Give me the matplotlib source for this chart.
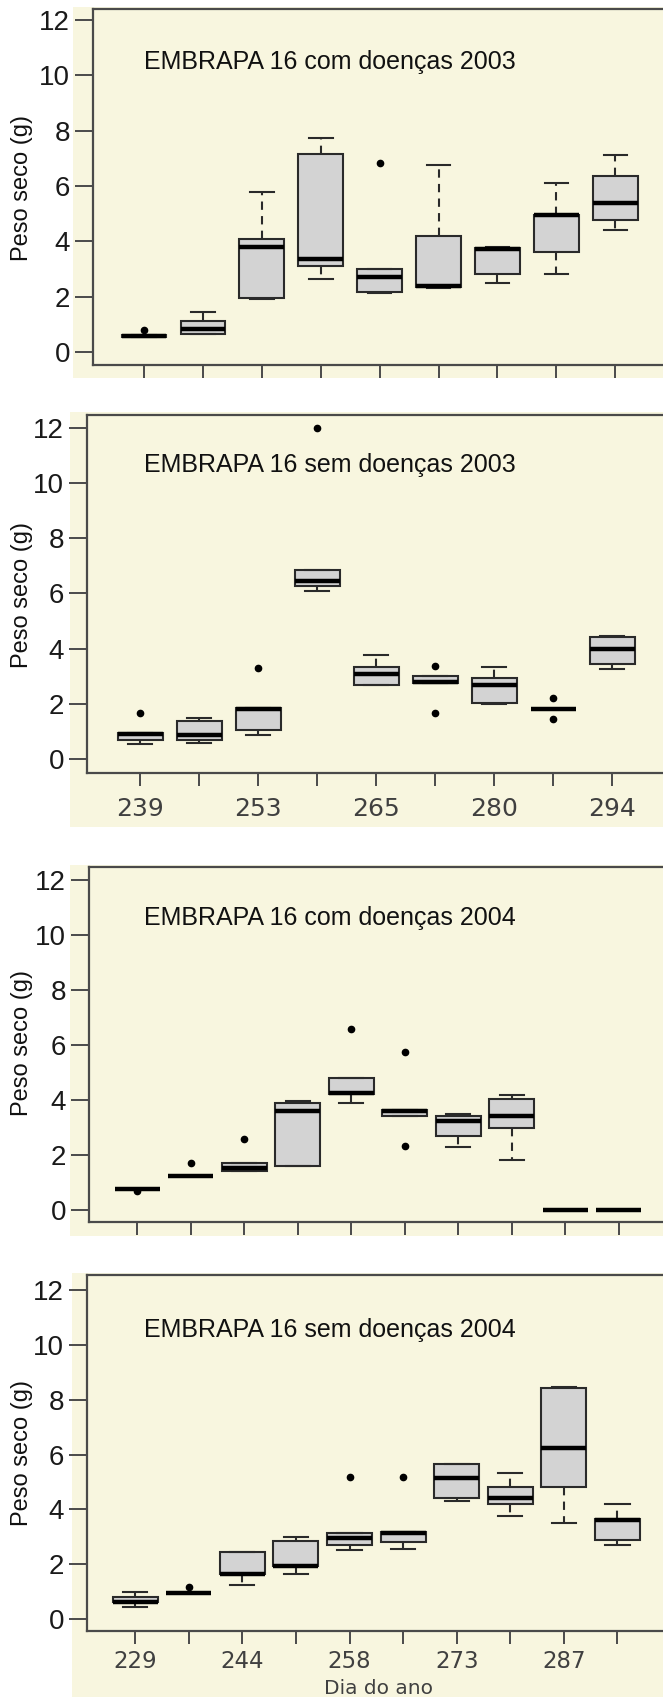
import matplotlib
matplotlib.use("Agg")
import matplotlib.pyplot as plt
from matplotlib.patches import Rectangle

# ---- data (Peso seco, g) ----
titles = ["EMBRAPA 16 com doenças 2003", "EMBRAPA 16 sem doenças 2003",
          "EMBRAPA 16 com doenças 2004", "EMBRAPA 16 sem doenças 2004"]

# painel 1: com doencas 2003
p1_q1 = [0.55, 0.64, 1.94, 3.12, 2.18, 2.36, 2.81, 3.63, 4.77]
p1_med = [0.58, 0.82, 3.81, 3.38, 2.70, 2.38, 3.72, 4.95, 5.37]
p1_q3 = [0.60, 1.13, 4.07, 7.16, 2.99, 4.19, 3.75, 4.97, 6.37]
p1_lo = [0.55, 0.64, 1.90, 2.63, 2.15, 2.30, 2.50, 2.82, 4.41]
p1_hi = [0.60, 1.43, 5.79, 7.75, 3.00, 6.76, 3.80, 6.12, 7.12]
p1_out = [[0.78], [], [], [], [6.84], [], [], [], []]

# painel 2: sem doencas 2003
p2_q1 = [0.69, 0.69, 1.05, 6.27, 2.68, 2.74, 2.04, 1.81, 3.44]
p2_med = [0.90, 0.87, 1.82, 6.46, 3.07, 2.80, 2.68, 1.81, 4.00]
p2_q3 = [0.95, 1.38, 1.85, 6.85, 3.32, 3.00, 2.92, 1.81, 4.43]
p2_lo = [0.54, 0.57, 0.85, 6.10, 2.68, 2.74, 2.00, 1.81, 3.25]
p2_hi = [0.95, 1.50, 1.85, 6.85, 3.77, 3.00, 3.32, 1.81, 4.47]
p2_out = [[1.66], [], [3.29], [12.0], [], [3.37, 1.66], [], [2.22, 1.46], []]
p2_days = ["239", "253", "265", "280", "294"]

# painel 3: com doencas 2004
p3_q1 = [0.75, 1.24, 1.43, 1.60, 4.22, 3.42, 2.67, 2.97, 0.0, 0.0]
p3_med = [0.75, 1.24, 1.54, 3.60, 4.25, 3.60, 3.24, 3.42, 0.0, 0.0]
p3_q3 = [0.75, 1.24, 1.72, 3.88, 4.79, 3.64, 3.43, 4.03, 0.0, 0.0]
p3_lo = [0.75, 1.24, 1.40, 1.60, 3.88, 3.42, 2.30, 1.82, 0.0, 0.0]
p3_hi = [0.75, 1.24, 1.72, 3.97, 4.79, 3.64, 3.48, 4.18, 0.0, 0.0]
p3_out = [[0.70], [1.70], [2.57], [], [6.57], [5.76, 2.33], [], [], [], []]

# painel 4: sem doencas 2004
p4_q1 = [0.60, 0.94, 1.63, 1.95, 2.70, 2.82, 4.43, 4.20, 4.83, 2.88]
p4_med = [0.62, 0.94, 1.63, 1.95, 2.94, 3.14, 5.13, 4.40, 6.23, 3.62]
p4_q3 = [0.81, 0.94, 2.43, 2.86, 3.13, 3.16, 5.64, 4.83, 8.42, 3.64]
p4_lo = [0.43, 0.94, 1.24, 1.63, 2.52, 2.57, 4.31, 3.76, 3.51, 2.70]
p4_hi = [1.00, 0.94, 2.43, 3.00, 3.13, 3.16, 5.64, 5.32, 8.45, 4.20]
p4_out = [[], [1.18], [], [], [5.17], [5.17], [], [], [], []]
p4_days = ["229", "244", "258", "273", "287"]

yticks = [0, 2, 4, 6, 8, 10, 12]

W, H = 663, 1697
BEIGE = "#f8f6df"
EDGE = "#2a2a2a"
SPINE = "#4a4a4a"

plt.rcParams['font.family'] = ['Liberation Sans', 'DejaVu Sans']

fig = plt.figure(figsize=(W / 100, H / 100), dpi=100)
fig.patch.set_facecolor("white")

# layout in pixels: axes left/top/bottom, limits, beige background (x, top, bottom)
panels = [
    dict(q1=p1_q1, med=p1_med, q3=p1_q3, lo=p1_lo, hi=p1_hi, out=p1_out,
         left=93, top=9, bot=365, xlim=(0.134, 9.81), ylim=(-0.47, 12.40),
         bg=(73, 7, 378), title_y=62, ylab_y=188, width=0.76, cap=0.40, days=None),
    dict(q1=p2_q1, med=p2_med, q3=p2_q3, lo=p2_lo, hi=p2_hi, out=p2_out,
         left=87, top=415, bot=773, xlim=(0.10, 9.86), ylim=(-0.51, 12.47),
         bg=(70, 412, 827), title_y=465, ylab_y=595, width=0.76, cap=0.40, days=p2_days),
    dict(q1=p3_q1, med=p3_med, q3=p3_q3, lo=p3_lo, hi=p3_hi, out=p3_out,
         left=89, top=867, bot=1222, xlim=(0.10, 10.83), ylim=(-0.44, 12.47),
         bg=(70, 865, 1236), title_y=918, ylab_y=1043, width=0.84, cap=0.45, days=None),
    dict(q1=p4_q1, med=p4_med, q3=p4_q3, lo=p4_lo, hi=p4_hi, out=p4_out,
         left=87, top=1275, bot=1631, xlim=(0.10, 10.85), ylim=(-0.44, 12.55),
         bg=(72, 1273, 1697), title_y=1330, ylab_y=1453, width=0.84, cap=0.45, days=p4_days),
]

for i, p in enumerate(panels):
    # fundo bege
    bx, btop, bbot = p["bg"]
    fig.patches.append(Rectangle((bx / W, 1 - bbot / H), (W - bx) / W, (bbot - btop) / H,
                                 transform=fig.transFigure, facecolor=BEIGE,
                                 edgecolor="none", zorder=-10))

    ax = fig.add_axes([p["left"] / W, 1 - p["bot"] / H, (W - p["left"]) / W,
                       (p["bot"] - p["top"]) / H])
    ax.set_facecolor(BEIGE)

    n = len(p["med"])
    stats = []
    for k in range(n):
        stats.append(dict(med=p["med"][k], q1=p["q1"][k], q3=p["q3"][k],
                          whislo=p["lo"][k], whishi=p["hi"][k], fliers=p["out"][k]))
    ax.bxp(stats, positions=list(range(1, n + 1)), widths=p["width"],
           capwidths=p["cap"], patch_artist=True, manage_ticks=False,
           boxprops=dict(facecolor="#d3d3d3", edgecolor=EDGE, linewidth=1.5),
           medianprops=dict(color="black", linewidth=3.2, solid_capstyle="butt"),
           whiskerprops=dict(color=EDGE, linewidth=1.5, linestyle=(0, (4, 3))),
           capprops=dict(color=EDGE, linewidth=1.5),
           flierprops=dict(marker="o", markerfacecolor="black", markeredgecolor="black",
                           markersize=4.5))

    ax.set_xlim(*p["xlim"])
    ax.set_ylim(*p["ylim"])
    ax.set_yticks(yticks)
    ax.set_yticklabels([str(v) for v in yticks])
    ax.set_xticks(list(range(1, n + 1)))
    if p["days"] is not None:
        labels = []
        for k in range(n):
            labels.append(p["days"][k // 2] if k % 2 == 0 else "")
        ax.set_xticklabels(labels)
    else:
        ax.set_xticklabels([])

    for side in ["left", "top", "bottom"]:
        ax.spines[side].set_color(SPINE)
        ax.spines[side].set_linewidth(1.6)
    ax.spines["right"].set_visible(False)

    ax.tick_params(axis="y", length=13, width=1.4, color=SPINE, pad=3.5,
                   labelsize=20, labelcolor="#1a1a1a")
    ax.tick_params(axis="x", length=9.5, width=1.4, color=SPINE,
                   pad=8 if i == 1 else 4, labelcolor="#404040")
    for lab in ax.get_xticklabels():
        lab.set_family("DejaVu Sans")
        lab.set_fontsize(18 if i == 1 else 16.5)

    fig.text(144 / W, 1 - p["title_y"] / H, titles[i], ha="left", va="center",
             fontsize=18, color="#111111")
    fig.text(22 / W, 1 - p["ylab_y"] / H, "Peso seco (g)", rotation=90,
             ha="center", va="center", fontsize=17, color="#111111")

fig.text(378 / W, 1 - 1689 / H, "Dia do ano", ha="center", va="center",
         fontsize=14.5, color="#404040", family="DejaVu Sans")

plt.savefig("out.png", dpi=100, facecolor="white")
